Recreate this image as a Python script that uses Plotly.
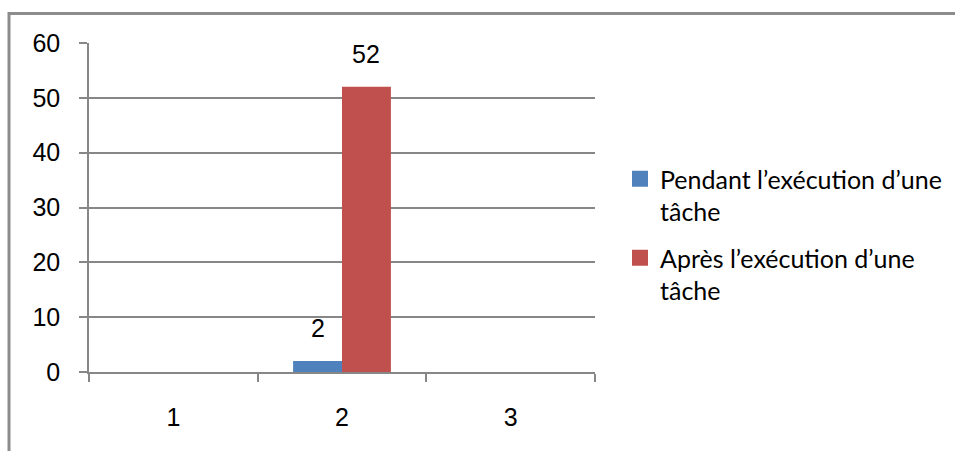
import plotly.graph_objects as go

# Categories and series values
categories = ["1", "2", "3"]
pendant = [None, 2, None]
apres = [None, 52, None]
series_names = ["Pendant l’exécution d’une<br>tâche", "Après l’exécution d’une<br>tâche"]
series_colors = ["#4F81BD", "#C0504D"]
y_ticks = [0, 10, 20, 30, 40, 50, 60]

W, H = 955, 451
ML, MR, MT, MB = 89, 360, 43, 79
PW, PH = W - ML - MR, H - MT - MB
BARGAP = 0.42

num_font = dict(family="Liberation Sans Narrow, Arial Narrow, Liberation Sans, sans-serif",
                size=25, color="#000000")
grid = "#878787"

fig = go.Figure()
series = [pendant, apres]
for vals, name, col in zip(series, series_names, series_colors):
    fig.add_trace(go.Bar(x=categories, y=vals, marker=dict(color=col, line=dict(width=0)),
                         showlegend=False, name=name))
# legend entries with larger square swatches
for i, (name, col) in enumerate(zip(series_names, series_colors)):
    fig.add_trace(go.Scatter(x=[None], y=[None], mode="markers", name=name,
                             legendgroup=f"g{i}",
                             marker=dict(symbol="square", size=16, color=col)))

# value labels above each bar
bar_w = (1 - BARGAP) / len(series)
for si, vals in enumerate(series):
    off = (si - (len(series) - 1) / 2) * bar_w
    for ci, v in enumerate(vals):
        if v is None:
            continue
        fig.add_annotation(x=ci + off, y=v, xref="x", yref="y", text=str(v),
                           showarrow=False, yanchor="bottom", yshift=17,
                           font=num_font)

# outer chart frame
fig.add_shape(type="rect", xref="paper", yref="paper",
              x0=(9 - ML) / PW, x1=(W + 20 - ML) / PW,
              y0=-(H + 20 - (MT + PH)) / PH, y1=(MT + PH - 13.5) / PH,
              line=dict(color="#8C8C8C", width=3), fillcolor="rgba(0,0,0,0)")

fig.update_layout(
    width=W, height=H,
    margin=dict(l=ML, r=MR, t=MT, b=MB, pad=0, autoexpand=False),
    paper_bgcolor="white", plot_bgcolor="white",
    barmode="group", bargap=BARGAP, bargroupgap=0,
    showlegend=True,
    legend=dict(x=(620 - ML) / PW, xanchor="left", y=(MT + PH - 156) / PH, yanchor="top",
                valign="top", traceorder="grouped", tracegroupgap=11,
                font=dict(family="Lato, Open Sans, sans-serif", size=25, color="#000000"),
                bgcolor="rgba(0,0,0,0)"),
    xaxis=dict(type="category", categoryorder="array", categoryarray=categories,
               showline=True, linecolor=grid, linewidth=1.5, ticks="outside", ticklen=8,
               tickcolor=grid, tickwidth=1.5, tickson="boundaries", showgrid=False,
               tickfont=num_font, ticklabelstandoff=22),
    yaxis=dict(range=[0, 60], tickvals=y_ticks, showgrid=True, gridcolor=grid, gridwidth=1.5,
               showline=True, linecolor=grid, linewidth=1.5, ticks="outside", ticklen=8,
               tickcolor=grid, tickwidth=1.5, zeroline=False, tickfont=num_font,
               ticklabelstandoff=14),
)

fig.write_html("out.html")
